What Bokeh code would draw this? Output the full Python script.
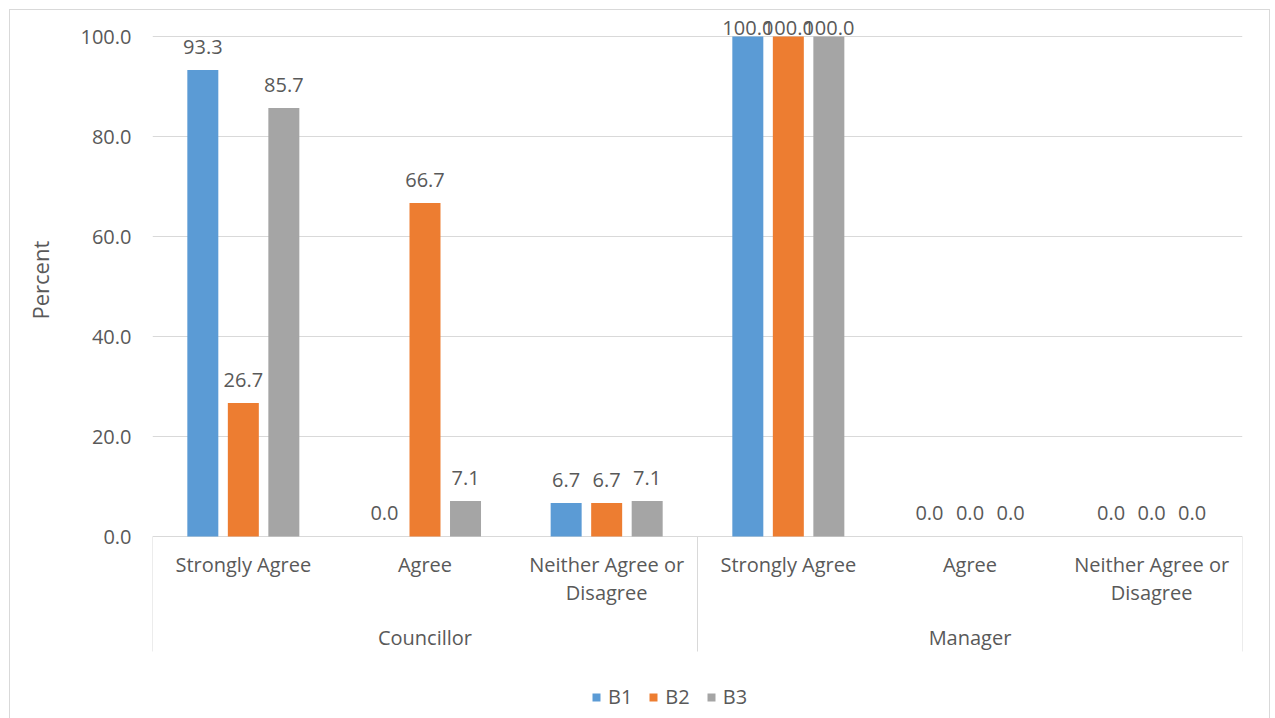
import numpy as np
from bokeh.plotting import figure
from bokeh.models import (ColumnDataSource, Range1d, FixedTicker, NumeralTickFormatter,
                          Legend, LegendItem, Title)
from bokeh.transform import dodge
from bokeh.core.properties import value
from bokeh.embed import file_html
from bokeh.resources import INLINE

# ---- data ----
groups = ["Councillor", "Manager"]
responses = ["Strongly Agree", "Agree", "Neither Agree or\nDisagree"]
series = ["B1", "B2", "B3"]
b1 = [93.3, 0.0, 6.7, 100.0, 0.0, 0.0]
b2 = [26.7, 66.7, 6.7, 100.0, 0.0, 0.0]
b3 = [85.7, 7.1, 7.1, 100.0, 0.0, 0.0]
y_ticks = [0, 20, 40, 60, 80, 100]
colors = ["#5B9BD5", "#ED7D31", "#A5A5A5"]

FONT = "Open Sans"
TXT = "#595959"
GRID = "#D9D9D9"
FS = "20px"

n_resp = len(responses)
n_cat = len(groups) * n_resp
xc = [i + 0.5 for i in range(n_cat)]
offsets = [-0.223, 0.0, 0.223]
bar_w = 0.1706

p = figure(width=1275, height=718, x_range=Range1d(0, n_cat), y_range=Range1d(-36.4, 107.2),
           x_axis_location=None, y_axis_location="left", toolbar_location=None,
           output_backend="svg", min_border_left=152, min_border_right=33,
           min_border_top=0, min_border_bottom=0)
p.outline_line_color = None
p.background_fill_color = None
p.border_fill_color = None
p.styles = {
    "background-image": "linear-gradient(#D9D9D9,#D9D9D9), linear-gradient(#D9D9D9,#D9D9D9), linear-gradient(#D9D9D9,#D9D9D9)",
    "background-size": "1261px 1px, 1px 720px, 1px 720px",
    "background-position": "9px 9px, 9px 9px, 1269px 9px",
    "background-repeat": "no-repeat",
}

p.xgrid.visible = False
p.ygrid.ticker = FixedTicker(ticks=y_ticks)
p.ygrid.grid_line_color = GRID
p.ygrid.grid_line_width = 1

ax = p.yaxis[0]
ax.ticker = FixedTicker(ticks=y_ticks)
ax.formatter = NumeralTickFormatter(format="0.0")
ax.axis_line_color = None
ax.major_tick_line_color = None
ax.minor_tick_line_color = None
ax.major_tick_out = 0
ax.major_tick_in = 0
ax.major_label_standoff = 21
ax.major_label_text_font = FONT
ax.major_label_text_font_size = FS
ax.major_label_text_color = TXT

src = ColumnDataSource(dict(x=xc, B1=b1, B2=b2, B3=b3))
renderers = []
for s, off, c in zip(series, offsets, colors):
    r = p.vbar(x=dodge("x", off), top=s, bottom=0, width=bar_w, source=src,
               fill_color=c, line_color=None)
    renderers.append(r)
    vals = np.array(src.data[s])
    lsrc = ColumnDataSource(dict(x=xc, y=np.minimum(vals + 4.7, 101.8),
                                 t=[f"{v:.1f}" for v in vals]))
    p.text(x=dodge("x", off), y="y", text="t", source=lsrc, text_align="center",
           text_baseline="middle", text_font=value(FONT), text_font_size=FS,
           text_color=TXT)

# category axis (two levels)
cat_src = ColumnDataSource(dict(x=xc, y=[-2.9] * n_cat, t=responses * len(groups)))
p.text(x="x", y="y", text="t", source=cat_src, text_align="center", text_baseline="top",
       text_font=value(FONT), text_font_size=FS, text_color=TXT, text_line_height=1.03)
grp_src = ColumnDataSource(dict(x=[n_resp * g + n_resp / 2 for g in range(len(groups))],
                                y=[-20.2] * len(groups), t=groups))
p.text(x="x", y="y", text="t", source=grp_src, text_align="center", text_baseline="middle",
       text_font=value(FONT), text_font_size=FS, text_color=TXT)
sep = [n_resp * g for g in range(len(groups) + 1)]
p.segment(x0=sep, y0=[0] * len(sep), x1=sep, y1=[-23] * len(sep), line_color=GRID, line_width=1)

# y axis title
p.add_layout(Title(text="Percent", align="left", offset=399, standoff=44,
                   vertical_align="middle",
                   text_font=FONT, text_font_size="22px", text_color=TXT,
                   text_font_style="normal"), "left")

legend = Legend(items=[LegendItem(label=s, renderers=[r]) for s, r in zip(series, renderers)],
                orientation="horizontal", location=(439, 8), padding=0, margin=0,
                glyph_width=10, glyph_height=10, label_standoff=7, spacing=16,
                label_text_font=FONT, label_text_font_size=FS, label_text_color=TXT,
                border_line_color=None, background_fill_alpha=0)
p.add_layout(legend)

open("out.html", "w").write(file_html(p, INLINE))
